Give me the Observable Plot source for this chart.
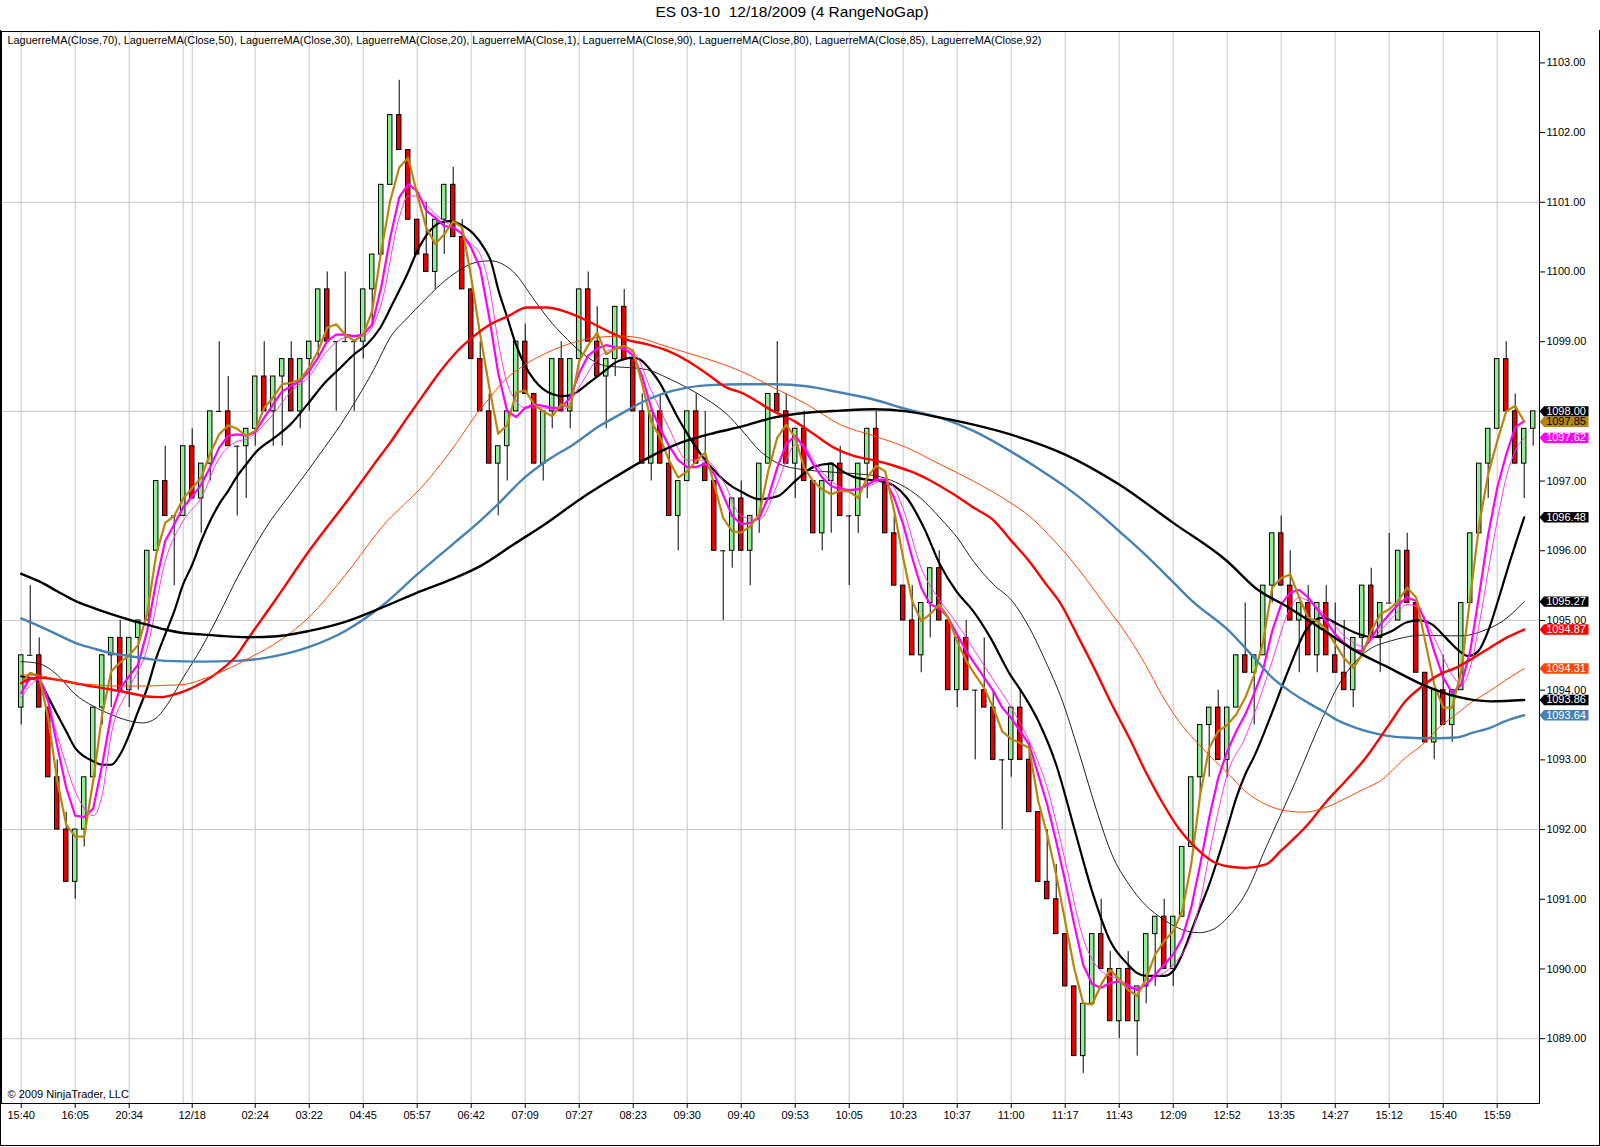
<!DOCTYPE html>
<html><head><meta charset="utf-8">
<script src="https://cdn.jsdelivr.net/npm/d3@7"></script>
<script src="https://cdn.jsdelivr.net/npm/@observablehq/plot@0.6"></script>
<style>
body{margin:0;background:#fff;font-family:"Liberation Sans",Arial,sans-serif;}
#wrap{position:relative;width:1600px;height:1147px;overflow:hidden;}
#title{position:absolute;left:0;top:0;width:1584px;text-align:center;font-size:15.5px;line-height:24px;white-space:pre;color:#000;}
#chart{position:absolute;left:0;top:30px;}
#outer{position:absolute;left:0;top:30px;width:1598px;height:1115px;border:1px solid #000;border-top:none;pointer-events:none;}
</style></head>
<body><div id="wrap"><div id="title">ES 03-10  12/18/2009 (4 RangeNoGap)</div><div id="chart"></div><div id="outer"></div></div>
<script>
// ---- candles (4-tick range bars) ----
const open = [
1093.75,1094.5,1094.5,1093.75,1092.75,1092,1091.25,1092,1092.75,1093.75,
1094.5,1094.75,1094,1094.75,1095,1096,1097,1096.5,1096.5,1097.5,
1096.75,1097.25,1098,1098,1097.5,1097.5,1097.75,1098.5,1098,1098.5,
1098.75,1098,1098.75,1099,1099.75,1099,1099,1099,1099,1099.75,
1100.25,1101.25,1102.25,1101.75,1100.75,1100.25,1100,1100.75,1101.25,1100.5,
1099.75,1098.75,1098,1097.25,1097.5,1098,1099,1098.25,1097.25,1098,
1098.75,1098,1098.75,1099.75,1099,1098.5,1098.75,1099.5,1098.75,1098,
1097.25,1098,1097.25,1096.5,1097,1098,1097.25,1097,1096,1096,
1096.75,1096,1096.5,1097.25,1098.25,1098,1097.25,1097.75,1097,1096.25,
1097,1097.25,1096.5,1096.5,1097.25,1097.75,1097,1096.25,1095.5,1095,
1094.5,1095.25,1095.75,1095,1094,1094.75,1094,1094,1093.75,1093,
1093,1093.75,1093,1092.25,1091.25,1091,1090.5,1089.75,1088.75,1089.5,
1090.5,1090,1089.25,1090,1089.25,1089.75,1090.5,1090.75,1090,1090.75,
1091.75,1092.75,1093.5,1093.75,1093,1093.75,1094.5,1094.25,1094.5,1095.5,
1096.25,1095.5,1095,1095.25,1094.5,1095.25,1094.5,1094.25,1094,1094.75,
1095.5,1094.75,1095.25,1095,1096,1095.25,1094.25,1093.25,1094,1093.5,
1094,1095.25,1096.25,1097.25,1097.75,1098.75,1098,1097.25,1097.75];
const high = [
1094.5,1095.5,1094.75,1093.75,1093,1092.25,1092,1092.75,1093.75,1094.5,
1094.75,1095,1094.75,1095,1096,1097,1097.5,1096.5,1097.5,1097.75,
1097.25,1098,1099,1098.5,1097.5,1097.75,1098.5,1099,1098.5,1098.75,
1099,1098.75,1099,1099.75,1100,1099,1100,1099,1099.75,1100.25,
1101.25,1102.25,1102.75,1101.75,1100.75,1101,1100.75,1101.25,1101.5,1100.75,
1099.75,1099,1098.25,1097.5,1098,1099,1099.25,1098.25,1098,1098.75,
1099,1098.75,1099.75,1100,1099.5,1098.75,1099.5,1099.75,1098.75,1098.25,
1098,1098.25,1097.5,1097,1098,1098.25,1098,1097,1096,1096.75,
1097,1096.5,1097.25,1098.25,1099,1098.25,1097.75,1098,1097,1097,
1097.25,1097.5,1096.5,1097.25,1097.75,1098,1097,1096.5,1095.5,1095.5,
1095.25,1095.75,1096,1095,1094.75,1095,1094,1094.75,1094,1093,
1093.75,1094,1093.25,1092.25,1092,1091.5,1090.5,1089.75,1089.5,1090.5,
1091,1090.25,1090,1090.25,1089.75,1090.5,1090.75,1091,1090.75,1091.75,
1092.75,1093.5,1093.75,1094,1093.75,1094.5,1095.25,1094.5,1095.5,1096.25,
1096.5,1096,1095.25,1095.5,1095.25,1095.5,1095.25,1095,1094.75,1095.5,
1095.75,1095.25,1096.25,1096,1096.25,1095.25,1094.25,1094,1094.5,1094,
1095.25,1096.25,1097.25,1097.75,1098.75,1099,1098.25,1097.75,1098];
const low = [
1093.5,1094.5,1093.75,1092.75,1092,1091.25,1091,1091.75,1092.75,1093.5,
1093.75,1094,1093.75,1094,1095,1096,1096.5,1095.5,1096.5,1096.75,
1096.25,1097,1098,1097.5,1096.5,1096.75,1097.5,1098,1097.5,1097.5,
1098,1097.75,1098,1098.75,1099,1098,1099,1098,1098.75,1099.25,
1100.25,1101.25,1101.75,1100.75,1100.25,1100,1099.75,1100.25,1100.5,1099.75,
1098.75,1098,1097.25,1096.5,1097,1098,1098.25,1097.25,1097,1097.75,
1098,1097.75,1098.75,1099,1098.5,1097.75,1098.5,1098.75,1098,1097.25,
1097,1097.25,1096.5,1096,1097,1097.25,1097,1096,1095,1095.75,
1096,1095.5,1096.25,1097.25,1098,1097.25,1096.75,1097,1096.25,1096,
1096.25,1096.5,1095.5,1096.25,1096.75,1097,1096.25,1095.5,1095,1094.5,
1094.25,1094.75,1095,1094,1093.75,1094,1093,1093.75,1093,1092,
1092.75,1093,1092.25,1091.25,1091,1090.5,1089.75,1088.75,1088.5,1089.5,
1090,1089.25,1089,1089.25,1088.75,1089.5,1089.75,1090,1089.75,1090.75,
1091.75,1092.5,1092.75,1093,1092.75,1093.75,1094.25,1093.5,1094.5,1095.25,
1095.5,1095,1094.25,1094.5,1094.25,1094.5,1094.25,1094,1093.75,1094.5,
1094.75,1094.25,1095.25,1095,1095.25,1094.25,1093.25,1093,1093.5,1093.25,
1094,1095.25,1096.25,1096.75,1097.75,1098,1097.25,1096.75,1097.5];
const close = [
1094.5,1094.5,1093.75,1092.75,1092,1091.25,1092,1092.75,1093.75,1094.5,
1094.75,1094,1094.75,1095,1096,1097,1096.5,1096.5,1097.5,1096.75,
1097.25,1098,1098,1097.5,1097.5,1097.75,1098.5,1098,1098.5,1098.75,
1098,1098.75,1099,1099.75,1099,1099,1099,1099,1099.75,1100.25,
1101.25,1102.25,1101.75,1100.75,1100.25,1100,1100.75,1101.25,1100.5,1099.75,
1098.75,1098,1097.25,1097.5,1098,1099,1098.25,1097.25,1098,1098.75,
1098,1098.75,1099.75,1099,1098.5,1098.75,1099.5,1098.75,1098,1097.25,
1098,1097.25,1096.5,1097,1098,1097.25,1097,1096,1096,1096.75,
1096,1096.5,1097.25,1098.25,1098,1097.25,1097.75,1097,1096.25,1097,
1097.25,1096.5,1096.5,1097.25,1097.75,1097,1096.25,1095.5,1095,1094.5,
1095.25,1095.75,1095,1094,1094.75,1094,1094,1093.75,1093,1093,
1093.75,1093,1092.25,1091.25,1091,1090.5,1089.75,1088.75,1089.5,1090.5,
1090,1089.25,1090,1089.25,1089.75,1090.5,1090.75,1090,1090.75,1091.75,
1092.75,1093.5,1093.75,1093,1093.75,1094.5,1094.25,1094.5,1095.5,1096.25,
1095.5,1095,1095.25,1094.5,1095.25,1094.5,1094.25,1094,1094.75,1095.5,
1094.75,1095.25,1095.25,1096,1095.25,1094.25,1093.25,1094,1093.5,1094,
1095.25,1096.25,1097.25,1097.75,1098.75,1098,1097.25,1097.75,1098];

// ---- LaguerreMA series (value per bar, or [bar, value] samples) ----
const lag1 = [
1094.1,1094.25,1094.2,1093.6,1092.7,1092.07,1091.9,1091.9,1092.7,1093.65,
1094.27,1094.4,1094.5,1094.65,1095.1,1095.95,1096.4,1096.5,1096.75,1096.9,
1097.05,1097.4,1097.67,1097.8,1097.75,1097.65,1097.72,1098.05,1098.2,1098.39,
1098.41,1098.46,1098.63,1098.87,1099.2,1099.25,1099.1,1099.01,1099.1,1099.44,
1100.3,1101.02,1101.5,1101.64,1101.11,1100.64,1100.4,1100.54,1100.73,1100.64,
1099.92,1099.1,1098.35,1097.68,1097.8,1098.27,1098.3,1098.1,1098.0,1097.93,
1098.1,1098.05,1098.72,1098.95,1099.13,1098.82,1098.9,1098.94,1098.87,1098.39,
1097.86,1097.62,1097.29,1097.05,1097.14,1097.29,1097.41,1096.95,1096.47,1096.28,
1096.26,1096.35,1096.52,1097.14,1097.62,1097.81,1097.62,1097.19,1097.0,1096.88,
1096.81,1096.86,1096.85,1096.76,1097.05,1097.22,1097.14,1096.57,1095.9,1095.28,
1094.99,1095.09,1095.23,1095.04,1094.7,1094.42,1094.22,1094.03,1093.75,1093.41,
1093.3,1093.24,1093.17,1092.41,1091.93,1091.35,1090.68,1090.01,1089.51,1089.49,
1089.78,1089.99,1089.85,1089.7,1089.61,1089.87,1090.21,1090.4,1090.54,1090.83,
1091.5,1092.5,1093.17,1093.41,1093.5,1093.65,1093.89,1094.22,1094.7,1095.47,
1095.61,1095.66,1095.33,1095.04,1094.99,1094.87,1094.66,1094.46,1094.32,1094.51,
1094.85,1095.09,1095.16,1095.28,1095.47,1095.33,1094.7,1094.08,1093.75,1093.75,
1094.27,1095.33,1096.38,1097.1,1097.57,1098.0,1098.08,1097.85];
const lag20 = [
1093.96,1094.18,1094.15,1093.84,1093.2,1092.6,1092.2,1092.18,1092.3,1092.93,
1093.65,1094.03,1094.2,1094.37,1094.85,1095.56,1096.14,1096.38,1096.62,1096.78,
1096.95,1097.2,1097.48,1097.65,1097.67,1097.65,1097.7,1097.91,1098.1,1098.29,
1098.36,1098.44,1098.58,1098.77,1099.01,1099.1,1099.1,1099.08,1099.1,1099.25,
1099.78,1100.49,1101.07,1101.26,1101.16,1100.88,1100.78,1100.66,1100.64,1100.55,
1100.35,1100.05,1099.35,1098.55,1098.0,1097.92,1098.05,1098.1,1098.08,1098.05,
1098.05,1098.2,1098.55,1098.8,1098.9,1098.95,1098.92,1098.9,1098.8,1098.5,
1098.05,1097.75,1097.5,1097.3,1097.2,1097.2,1097.25,1097.1,1096.8,1096.5,
1096.38,1096.4,1096.47,1096.76,1097.19,1097.53,1097.65,1097.48,1097.24,1097.05,
1096.93,1096.88,1096.87,1096.88,1096.95,1097.02,1097.02,1096.76,1096.38,1095.9,
1095.47,1095.23,1095.18,1095.04,1094.8,1094.56,1094.37,1094.18,1093.99,1093.75,
1093.6,1093.41,1093.22,1092.79,1092.36,1091.83,1091.26,1090.64,1090.06,1089.78,
1089.73,1089.8,1089.82,1089.75,1089.7,1089.78,1089.92,1090.06,1090.21,1090.44,
1090.88,1091.5,1092.17,1092.74,1093.12,1093.41,1093.65,1093.95,1094.3,1094.85,
1095.23,1095.4,1095.44,1095.33,1095.16,1094.99,1094.8,1094.68,1094.58,1094.56,
1094.75,1094.94,1095.09,1095.23,1095.33,1095.28,1094.99,1094.56,1094.18,1093.96,
1094.08,1094.56,1095.37,1096.23,1096.9,1097.38,1097.77,1097.86];
const lag30 = [[0,1093.9],[2,1094.15],[4,1093.35],[6,1092.55],[8,1092.2],[9,1092.5],[10,1093.36],[12,1094.03],[14,1094.6],[16,1095.85],[18,1096.43],[20,1096.76],[22,1097.33],[24,1097.57],[25,1097.6],[28,1097.96],[30,1098.29],[32,1098.5],[34,1098.87],[36,1099.06],[38,1099.08],[40,1099.54],[42,1100.78],[43,1101.09],[44,1101.09],[45,1100.97],[46,1100.83],[48,1100.64],[50,1100.4],[51,1100.25],[52,1099.8],[53,1099.0],[54,1098.4],[55,1098.15],[56,1098.05],[58,1098.05],[60,1098.0],[62,1098.35],[64,1098.75],[66,1098.9],[68,1098.85],[70,1098.3],[72,1097.75],[74,1097.3],[76,1097.3],[78,1097.0],[80,1096.5],[82,1096.45],[84,1096.95],[85,1097.3],[86,1097.52],[87,1097.5],[88,1097.3],[90,1097.0],[92,1096.88],[94,1096.92],[96,1097.02],[97,1096.9],[98,1096.6],[100,1095.75],[102,1095.3],[104,1094.95],[106,1094.55],[108,1094.15],[110,1093.75],[112,1093.27],[114,1092.6],[116,1091.55],[118,1090.44],[120,1089.97],[122,1089.85],[124,1089.73],[126,1089.87],[128,1090.06],[130,1090.49],[131,1090.97],[132,1091.64],[133,1092.26],[134,1092.79],[136,1093.32],[138,1094.03],[139,1094.42],[141,1095.18],[142,1095.33],[143,1095.28],[145,1095.06],[147,1094.78],[149,1094.63],[151,1094.85],[153,1095.13],[154,1095.23],[155,1095.2],[157,1094.75],[159,1094.22],[160,1094.08],[161,1094.32],[162,1094.94],[163,1095.71],[164,1096.43],[165,1097.05],[166,1097.43],[167,1097.62]];
const lag50 = [[0,1094.2],[2,1094.13],[3,1093.9],[4,1093.65],[5,1093.41],[6,1093.17],[7,1093.05],[8,1092.98],[9,1092.93],[10,1092.93],[11,1093.08],[12,1093.36],[13,1093.7],[14,1094.03],[15,1094.46],[16,1094.8],[17,1095.13],[18,1095.52],[19,1095.8],[20,1096.14],[21,1096.43],[22,1096.67],[23,1096.86],[24,1097.07],[25,1097.24],[26.2,1097.43],[28.1,1097.62],[29.9,1097.81],[31.8,1098.1],[33.6,1098.39],[35.5,1098.63],[37,1098.82],[38.4,1098.96],[39.9,1099.2],[41.4,1099.58],[42.9,1099.97],[44,1100.3],[45.1,1100.54],[46.6,1100.71],[47.7,1100.73],[48.8,1100.68],[50.3,1100.54],[51.4,1100.35],[52.2,1100.15],[53,1099.75],[54,1099.35],[55,1098.95],[56,1098.65],[57,1098.45],[58,1098.32],[59,1098.25],[60,1098.22],[61,1098.23],[62,1098.3],[63,1098.4],[64,1098.5],[65,1098.6],[66,1098.7],[67,1098.75],[68,1098.77],[69,1098.72],[70,1098.58],[71,1098.4],[72,1098.15],[73,1097.9],[74,1097.68],[75,1097.48],[76,1097.3],[77,1097.15],[78,1097.02],[79,1096.92],[80,1096.85],[81,1096.78],[82,1096.74],[84,1096.78],[86,1097.0],[88,1097.2],[90,1097.25],[91,1097.16],[92.5,1097.06],[94,1097.02],[95.5,1097.0],[97,1096.93],[98.4,1096.76],[100.3,1096.33],[102.1,1095.8],[103.9,1095.42],[105.8,1095.13],[107.7,1094.75],[109.9,1094.22],[111,1094.01],[113,1093.56],[115,1092.93],[117,1092.02],[119,1091.11],[121,1090.4],[123,1090.06],[124,1089.94],[125,1089.9],[127,1089.9],[128,1089.97],[129,1090.21],[130,1090.54],[131,1090.88],[132,1091.21],[133,1091.6],[134,1092.02],[135,1092.45],[136,1092.79],[137,1093.05],[138.9,1093.65],[140.9,1094.32],[142.7,1094.85],[144.6,1095.04],[146.4,1094.94],[148.3,1094.82],[150.1,1094.76],[152.3,1094.85],[153.9,1094.97],[155.3,1095.0],[156.8,1094.94],[158.3,1094.75],[159.8,1094.56],[160.8,1094.49],[161.9,1094.56],[163,1094.85],[164.2,1095.33],[165.3,1095.8],[167,1096.48]];
const lag70 = [[0,1094.41],[2,1094.38],[4,1094.22],[6,1093.94],[8,1093.77],[10,1093.65],[12,1093.56],[13.5,1093.53],[15,1093.6],[16,1093.75],[18,1094.18],[20,1094.6],[22,1095.09],[24,1095.61],[25,1095.85],[27.7,1096.43],[29.9,1096.81],[31.8,1097.14],[33.7,1097.48],[35.5,1097.81],[37.4,1098.2],[39.3,1098.63],[41,1099.06],[42.9,1099.34],[44.7,1099.58],[46.6,1099.82],[48.5,1100.01],[50.3,1100.13],[52.1,1100.16],[54.7,1100.0],[57,1099.6],[58.5,1099.34],[60.7,1099.03],[63,1098.77],[65,1098.65],[67.3,1098.63],[69.5,1098.6],[71.8,1098.48],[74,1098.34],[76.2,1098.17],[78.4,1097.96],[80,1097.74],[82.1,1097.43],[84.3,1097.24],[86.6,1097.17],[88.8,1097.14],[91,1097.12],[93.2,1097.1],[95.5,1097.06],[97.7,1096.95],[99.9,1096.76],[102.1,1096.47],[104,1096.19],[105.8,1095.85],[108,1095.52],[110.1,1095.28],[112,1094.9],[113.8,1094.42],[115.7,1093.84],[117.5,1093.12],[119.4,1092.31],[121.2,1091.64],[123.1,1091.21],[124.9,1090.92],[126.7,1090.73],[128.2,1090.61],[129.6,1090.54],[130.8,1090.52],[132.3,1090.56],[134.2,1090.76],[136,1091.07],[138.3,1091.74],[141.6,1092.69],[144.6,1093.6],[146.4,1094.08],[148.3,1094.42],[150.1,1094.61],[152,1094.7],[153.8,1094.76],[155.7,1094.79],[157.9,1094.78],[160.1,1094.78],[162.4,1094.85],[164.6,1094.99],[167,1095.27]];
const lag80 = [[0,1094.1],[1,1094.16],[2,1094.18],[4,1094.15],[6,1094.1],[8,1094.05],[10,1094.01],[12,1093.96],[14,1093.91],[15.5,1093.9],[17,1093.94],[18,1093.98],[20,1094.1],[22,1094.27],[24,1094.51],[25,1094.7],[28,1095.25],[32,1096.0],[37.3,1096.9],[39.2,1097.24],[41.1,1097.57],[42.9,1097.91],[44.7,1098.24],[46.6,1098.58],[48.5,1098.87],[50.3,1099.08],[52,1099.24],[54,1099.36],[56.2,1099.49],[58.4,1099.49],[60.7,1099.42],[62.9,1099.3],[65.2,1099.15],[67.3,1099.03],[69.6,1098.96],[71.8,1098.87],[74.1,1098.72],[76.3,1098.53],[78.4,1098.34],[80,1098.27],[83.6,1098.0],[85.9,1097.86],[88.1,1097.67],[90.3,1097.48],[92.5,1097.36],[94.7,1097.3],[97,1097.22],[99.2,1097.12],[101.4,1096.98],[103.6,1096.81],[105.8,1096.62],[108.1,1096.43],[109.9,1096.16],[112,1095.85],[114,1095.5],[115.3,1095.28],[117.5,1094.75],[119.4,1094.27],[121.2,1093.79],[123.1,1093.32],[124.9,1092.84],[126.7,1092.41],[128.6,1092.02],[130.5,1091.74],[132.3,1091.55],[134.2,1091.47],[136,1091.45],[138.3,1091.5],[140,1091.7],[143,1092.08],[145,1092.4],[147.1,1092.69],[149.4,1093.03],[152,1093.51],[153.8,1093.84],[155.7,1094.06],[157.5,1094.22],[159.4,1094.32],[161.3,1094.46],[163.2,1094.61],[165,1094.75],[167,1094.87]];
const lag85 = [[0,1094.22],[2,1094.21],[4,1094.15],[6,1094.1],[8,1094.08],[10,1094.06],[14,1094.06],[16,1094.07],[18,1094.08],[20,1094.15],[22,1094.25],[24,1094.37],[25,1094.44],[28,1094.65],[32,1095.05],[36,1095.65],[40.7,1096.43],[42.6,1096.67],[44.4,1096.9],[46.6,1097.24],[48.5,1097.57],[50.3,1097.91],[52.1,1098.2],[53.3,1098.39],[55.5,1098.63],[58.4,1098.84],[61.4,1098.99],[64,1099.06],[66.6,1099.08],[68.8,1099.05],[71,1098.96],[74,1098.84],[77,1098.72],[79.9,1098.58],[83.6,1098.34],[87.3,1098.1],[91,1097.81],[94.7,1097.65],[98.4,1097.48],[102.1,1097.24],[105.8,1097.0],[109.9,1096.69],[112,1096.5],[114,1096.25],[116,1095.97],[118,1095.65],[120.1,1095.28],[123.1,1094.75],[124.9,1094.37],[126.7,1093.94],[128.6,1093.56],[130.5,1093.27],[132.3,1093.03],[134.2,1092.79],[136,1092.55],[138.3,1092.36],[140.5,1092.27],[142.5,1092.25],[145,1092.32],[147.5,1092.47],[149.5,1092.6],[150.9,1092.69],[153.8,1093.03],[155.7,1093.22],[157.5,1093.46],[159.4,1093.65],[161.3,1093.84],[163.2,1093.99],[165,1094.15],[167,1094.31]];
const lag90 = [[0,1095.03],[2,1094.92],[4,1094.8],[6,1094.68],[8,1094.6],[10,1094.53],[12,1094.49],[14,1094.45],[16,1094.42],[20,1094.41],[24,1094.42],[27,1094.46],[32,1094.62],[36,1094.85],[40,1095.2],[44,1095.66],[48,1096.1],[51,1096.43],[53.3,1096.71],[55.5,1097.0],[58.4,1097.29],[61.4,1097.53],[64,1097.77],[66.6,1097.96],[68.8,1098.12],[71,1098.24],[74,1098.34],[77,1098.38],[80,1098.39],[83.6,1098.39],[87.3,1098.36],[91,1098.27],[94.7,1098.17],[98.4,1098.03],[102.1,1097.91],[105.8,1097.72],[109.9,1097.43],[113,1097.18],[116,1096.92],[119,1096.62],[122,1096.28],[125,1095.93],[128,1095.55],[130.1,1095.28],[134.2,1094.85],[137.1,1094.45],[139,1094.18],[140.9,1093.99],[142.7,1093.84],[144.6,1093.7],[146.4,1093.56],[148.3,1093.46],[150.1,1093.39],[152,1093.34],[153.8,1093.32],[155.7,1093.31],[157.5,1093.31],[159.4,1093.32],[161.3,1093.39],[163.2,1093.46],[165,1093.56],[167,1093.64]];
const lag92 = [[0,1095.67],[2,1095.56],[4,1095.42],[6,1095.28],[8,1095.18],[10,1095.09],[12,1095.01],[14,1094.94],[16,1094.87],[18,1094.82],[20,1094.8],[22,1094.78],[25,1094.76],[28,1094.77],[32,1094.85],[36,1094.98],[40,1095.18],[44,1095.4],[48,1095.6],[51,1095.78],[54.7,1096.09],[58.4,1096.4],[62.1,1096.74],[65.9,1097.05],[69.6,1097.33],[73.3,1097.55],[77,1097.69],[80,1097.78],[83.6,1097.91],[87.3,1097.98],[91,1098.01],[94.7,1098.03],[98.4,1098.0],[102.1,1097.91],[105.8,1097.81],[109.9,1097.67],[116,1097.38],[122,1096.95],[128,1096.4],[134,1095.85],[137.1,1095.47],[140.9,1095.18],[144.6,1094.87],[148.3,1094.56],[152,1094.32],[155.7,1094.08],[159.4,1093.91],[163.3,1093.84],[167,1093.86]];

// ---- axis ticks ----
const tickBars = [0,6,12,19,26,32,38,44,50,56,62,68,74,80,86,92,98,104,110,116,122,128,134,140,146,152,158,164];
const tickLabels = ["15:40","16:05","20:34","12/18","02:24","03:22","04:45","05:57","06:42","07:09","07:27","08:23","09:30","09:40","09:53","10:05","10:23","10:37","11:00","11:17","11:43","12:09","12:52","13:35","14:27","15:12","15:40","15:59"];
const gridBars = [0,6,12,18,19,26,32,38,44,50,56,62,68,74,80,86,92,98,104,110,116,122,128,134,140,146,152,158,164];
const priceTicks = [1089,1090,1091,1092,1093,1094,1095,1096,1097,1098,1099,1100,1101,1102,1103];
const priceGrid = [1089,1092,1095,1098,1101];
const legendText = "LaguerreMA(Close,70), LaguerreMA(Close,50), LaguerreMA(Close,30), LaguerreMA(Close,20), LaguerreMA(Close,1), LaguerreMA(Close,90), LaguerreMA(Close,80), LaguerreMA(Close,85), LaguerreMA(Close,92)";

// ---- derived tables ----
const candles = open.map((o, i) => ({i, open: o, high: high[i], low: low[i], close: close[i]}));
const up = candles.filter(d => d.close > d.open);
const down = candles.filter(d => d.close < d.open);
const doji = candles.filter(d => d.close === d.open);
const last = a => a[a.length - 1];
const markers = [
  {v: last(close), bg: "#000000", fg: "#ffffff"},
  {v: last(lag1), bg: "#b8860b", fg: "#000000"},
  {v: last(lag30)[1], bg: "#ff00ff", fg: "#ffffff"},
  {v: last(lag50)[1], bg: "#000000", fg: "#ffffff"},
  {v: last(lag70)[1], bg: "#000000", fg: "#ffffff"},
  {v: last(lag80)[1], bg: "#ff0000", fg: "#ffffff"},
  {v: last(lag85)[1], bg: "#ff4500", fg: "#ffffff"},
  {v: last(lag92)[1], bg: "#000000", fg: "#ffffff"},
  {v: last(lag90)[1], bg: "#4682b4", fg: "#ffffff"}
];
const tag = {draw(ctx) { ctx.moveTo(0,0); ctx.lineTo(4.5,-5.2); ctx.lineTo(49,-5.2); ctx.lineTo(49,5.2); ctx.lineTo(4.5,5.2); ctx.closePath(); }};

const pairLine = (arr, stroke, sw) => Plot.line(arr, {x: d => d[0], y: d => d[1], stroke, strokeWidth: sw, curve: "monotone-x"});
const barLine = (arr, stroke, sw) => Plot.line(arr, {x: (d, i) => i, y: d => d, stroke, strokeWidth: sw, curve: "linear"});

const markerMarks = [];
for (const m of markers) {
  markerMarks.push(Plot.dot([m], {y: "v", frameAnchor: "right", symbol: tag, fill: m.bg, stroke: "none"}));
  markerMarks.push(Plot.text([m], {y: "v", frameAnchor: "right", dx: 26.5, text: d => d.v.toFixed(2), fill: m.fg, fontSize: 11, textAnchor: "middle"}));
}

const chart = Plot.plot({
  width: 1600, height: 1117,
  marginTop: 1, marginRight: 61, marginBottom: 44, marginLeft: 1,
  x: {domain: [-2.19, 168.7]},
  y: {domain: [1088.07, 1103.45]},
  style: {fontFamily: '"Liberation Sans", Arial, sans-serif', fontSize: "11px", color: "#000", background: "#fff", overflow: "visible"},
  marks: [
    Plot.gridX({ticks: gridBars, stroke: "#c8c8c8", strokeOpacity: 1}),
    Plot.gridY({ticks: priceGrid, stroke: "#c8c8c8", strokeOpacity: 1}),
    Plot.ruleX(candles, {x: "i", y1: "low", y2: "high", stroke: "#000", strokeWidth: 1}),
    Plot.rect(up, {x1: d => d.i - 0.25, x2: d => d.i + 0.25, y1: "open", y2: "close", fill: "#90ee90", stroke: "#000", strokeWidth: 1}),
    Plot.rect(down, {x1: d => d.i - 0.25, x2: d => d.i + 0.25, y1: "open", y2: "close", fill: "#e60000", stroke: "#000", strokeWidth: 1}),
    Plot.ruleY(doji, {y: "close", x1: d => d.i - 0.3, x2: d => d.i + 0.3, stroke: "#000", strokeWidth: 1}),
    pairLine(lag70, "#222222", 1),
    pairLine(lag50, "#000000", 2.2),
    pairLine(lag30, "#ff33ff", 1),
    barLine(lag20, "#ff00ff", 2.2),
    barLine(lag1, "#b8860b", 2.2),
    pairLine(lag90, "#4682b4", 2.4),
    pairLine(lag80, "#ff0000", 2.4),
    pairLine(lag85, "#ff4500", 1),
    pairLine(lag92, "#000000", 2.4),
    Plot.frame({stroke: "#000"}),
    Plot.axisY({anchor: "right", ticks: priceTicks, tickFormat: d3.format(".2f"), tickSize: 5, tickPadding: 2, label: null}),
    Plot.axisX({ticks: tickBars, tickFormat: d => tickLabels[tickBars.indexOf(d)], tickSize: 5, tickPadding: 3, label: null}),
    Plot.text([legendText], {text: d => d, frameAnchor: "top-left", dx: 6, dy: 5, textAnchor: "start", fontSize: 10.9, fill: "#000"}),
    Plot.text(["© 2009 NinjaTrader, LLC"], {text: d => d, frameAnchor: "bottom-left", dx: 6, dy: -6, textAnchor: "start", fontSize: 11, fill: "#000"}),
    ...markerMarks
  ]
});
document.getElementById("chart").appendChild(chart);
</script>
</body></html>
